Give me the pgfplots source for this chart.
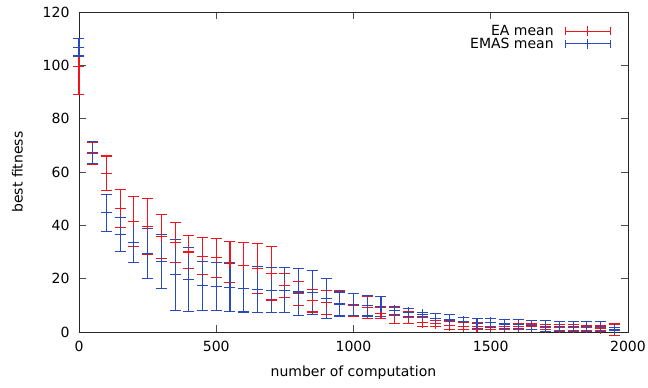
\documentclass[border=0pt]{standalone}
\usepackage{pgfplots}
\usepackage{pgfplotstable}
\pgfplotsset{compat=1.18}
\usepackage{fontspec}
\setmainfont{DejaVu Sans}
\definecolor{eacol}{RGB}{240,20,30}
\definecolor{emascol}{RGB}{40,75,185}
\pgfplotsset{errleg/.style={legend image code/.code={\draw[##1] (0pt,0pt)--(45pt,0pt) (0pt,-4pt)--(0pt,4pt) (22.5pt,-5pt)--(22.5pt,5pt) (45pt,-4pt)--(45pt,4pt);}}}
\pgfplotstableread{
x y e
0 99.5 10.5
50 67 4.2
100 59.5 6.5
150 46.4 7.2
200 41.4 9.4
250 39.5 10.6
300 35.8 8.3
350 33.5 7.5
400 30 6.1
450 28.4 7
500 27.9 7.3
550 26.2 7.8
600 24.9 8.5
650 23.8 9.3
700 22 10
750 17.5 4.6
800 14.5 4.5
850 11.7 4.2
900 11.1 4.5
950 10.7 4.8
1000 10.1 4.2
1050 9.2 4.2
1100 7 2.1
1150 6.2 2.9
1200 5.4 2.3
1250 3.7 1.6
1300 3.1 1.2
1350 2.5 1.5
1400 2.2 1.2
1450 2.2 1.2
1500 2.2 1.2
1550 2.1 1.1
1600 2.0 1.1
1650 2.0 1.0
1700 1.8 1.0
1750 1.7 1.0
1800 1.7 1.0
1850 1.6 1.0
1900 1.5 0.9
1950 0.8 2.2
}\eatab
\pgfplotstableread{
x y e
0 106.8 3.3
50 67.3 4.1
100 44.7 7
150 36.7 6.4
200 33.7 7.8
250 29.5 9.3
300 26.4 10
350 21.4 13.4
400 19.6 12
450 17.4 9.2
500 16.9 9
550 16.7 9
600 16.2 8.7
650 15.9 8.6
700 15.7 8.5
750 15.7 8.5
800 15 8.7
850 14.8 8.4
900 12.6 7.5
950 10.5 4.5
1000 10.3 4
1050 9.8 3.8
1100 9.6 3.7
1150 8 1.5
1200 7.3 1.6
1250 6.5 0.8
1300 5.1 1.8
1350 4.5 1.9
1400 3.8 1.8
1450 3.3 1.9
1500 3.4 1.8
1550 3.0 1.6
1600 2.9 1.7
1650 2.5 1.7
1700 2.2 2.0
1750 2.1 2.0
1800 2.1 2.0
1850 2.1 2.0
1900 2.1 2.0
1950 1.0 0.6
}\emastab
\begin{document}
\begin{tikzpicture}
\path[use as bounding box] (-79pt,-56pt) rectangle (569pt,332pt);
\begin{axis}[
 scale only axis, width=549pt, height=320pt,
 xmin=0, xmax=2000, ymin=0, ymax=120,
 xtick={0,500,...,2000}, ytick={0,20,...,120},
 tick align=inside, major tick length=7pt,
 font=\fontsize{14}{16}\selectfont,
 /pgf/number format/assume math mode=true,
 /pgf/number format/1000 sep={},
 axis line style={line width=0.8pt, black!85},
 tick style={line width=0.8pt, black!70},
 xticklabel style={yshift=-6pt},
 yticklabel style={xshift=-6pt},
 xlabel={number of computation}, ylabel={best fitness},
 xlabel style={yshift=-7pt},
 ylabel style={yshift=13pt},
 clip=false,
 legend style={at={(1,1)}, anchor=north east, xshift=-16pt, yshift=-10pt, draw=none, fill=none, row sep=-3pt, column sep=9pt, inner sep=1pt, font=\fontsize{14}{16}\selectfont},
 legend cell align=right, legend plot pos=right,
]
\addlegendimage{color=eacol, line width=1.1pt, errleg}
\addlegendentry{EA mean}
\addlegendimage{color=emascol, line width=1.1pt, errleg}
\addlegendentry{EMAS mean}
\addplot[color=eacol, line width=1.1pt, mark=+, mark size=5.5pt, draw=none, mark options={draw=eacol, solid}, forget plot,
  error bars/.cd, y dir=both, y explicit, error mark=-, error mark options={rotate=90, mark size=5.5pt, line width=1.1pt, color=eacol}, error bar style={color=eacol, draw=eacol, line width=1.1pt}]
  table[x=x, y=y, y error=e] {\eatab};
\addplot[color=emascol, line width=1.1pt, mark=+, mark size=5.5pt, draw=none, mark options={draw=emascol, solid}, forget plot,
  error bars/.cd, y dir=both, y explicit, error mark=-, error mark options={rotate=90, mark size=5.5pt, line width=1.1pt, color=emascol}, error bar style={color=emascol, draw=emascol, line width=1.1pt}]
  table[x=x, y=y, y error=e] {\emastab};
\end{axis}
\end{tikzpicture}
\end{document}
